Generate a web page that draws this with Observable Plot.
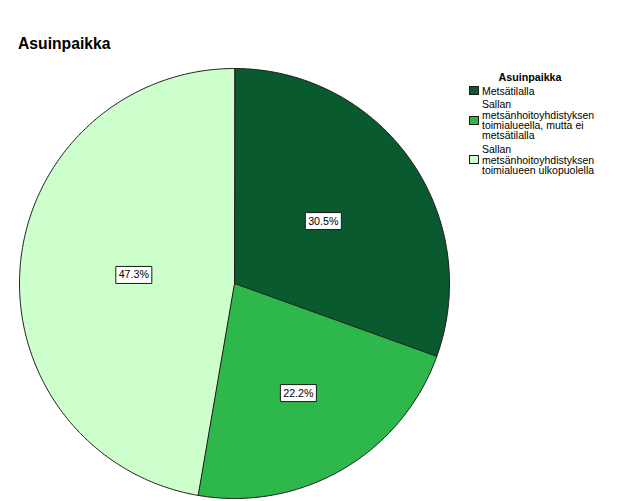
<!DOCTYPE html>
<html>
<head>
<meta charset="utf-8">
<script src="https://cdn.jsdelivr.net/npm/d3@7"></script>
<script src="https://cdn.jsdelivr.net/npm/@observablehq/plot@0.6"></script>
<style>
  body { margin: 0; background: white; }
  #wrap { position: relative; width: 626px; height: 501px; font-family: Arial, "Liberation Sans", sans-serif; background: white; overflow: hidden; }
  #title { position: absolute; left: 18px; top: 35.7px; font-size: 15.7px; line-height: 15.7px; font-weight: bold; color: #000; }
  #chart { position: absolute; left: 0; top: 0; }
  #legtitle { position: absolute; left: 470px; width: 120px; top: 72px; text-align: center; font-size: 10.7px; line-height: 10.7px; font-weight: bold; color: #000; }
  #legend { position: absolute; left: 468.5px; top: 85.5px; display: flex; flex-direction: column; gap: 3.7px; }
  .item { display: flex; align-items: center; }
  .sw { width: 10px; height: 9px; box-sizing: border-box; border: 1px solid #1a1a1a; margin-right: 3.5px; flex: none; }
  .lab { font-size: 10.5px; line-height: 10.3px; white-space: pre-line; color: #000; }
</style>
</head>
<body>
<div id="wrap">
  <div id="title"></div>
  <div id="chart"></div>
  <div id="legtitle"></div>
  <div id="legend"></div>
</div>
<script>
// ---- data ----
const chartTitle = "Asuinpaikka";
const legendTitle = "Asuinpaikka";
const categories = [
  "Metsätilalla",
  "Sallan\nmetsänhoitoyhdistyksen\ntoimialueella, mutta ei\nmetsätilalla",
  "Sallan\nmetsänhoitoyhdistyksen\ntoimialueen ulkopuolella"
];
const percents = [30.5, 22.2, 47.3];
const colors = ["#0a5a2f", "#2eb84b", "#ccffcc"];
// label distance from centre as fraction of radius
const labelRadius = [0.505, 0.59, 0.47];

// ---- geometry via d3.pie ----
const arcs = d3.pie().sort(null).value(d => d)(percents);
const slicePts = arcs.flatMap((a, i) => {
  const cat = categories[i];
  const pts = [{cat, x: 0, y: 0}];
  const n = Math.max(2, Math.ceil((a.endAngle - a.startAngle) / (Math.PI / 360)));
  for (let k = 0; k <= n; k++) {
    const t = a.startAngle + (a.endAngle - a.startAngle) * k / n;
    pts.push({cat, x: Math.sin(t), y: Math.cos(t)});
  }
  return pts;
});
const labels = arcs.map((a, i) => {
  const m = (a.startAngle + a.endAngle) / 2;
  const f = labelRadius[i];
  return {cat: categories[i], text: percents[i].toFixed(1) + "%", x: f * Math.sin(m), y: f * Math.cos(m)};
});

const boxSymbol = {
  draw(context) {
    context.moveTo(-18, -8.5);
    context.lineTo(18, -8.5);
    context.lineTo(18, 8.5);
    context.lineTo(-18, 8.5);
    context.closePath();
  }
};

const plot = Plot.plot({
  width: 626,
  height: 501,
  margin: 0,
  style: {fontFamily: "Arial, 'Liberation Sans', sans-serif", background: "transparent", overflow: "visible"},
  x: {domain: [-1, 1], range: [19, 449], axis: null},
  y: {domain: [-1, 1], range: [498, 68], axis: null},
  color: {domain: categories, range: colors},
  marks: [
    Plot.line(slicePts, {x: "x", y: "y", z: "cat", fill: "cat", stroke: "#1a1a1a", strokeWidth: 1, curve: "linear-closed", strokeLinejoin: "round"}),
    Plot.dot(labels, {x: "x", y: "y", symbol: boxSymbol, r: 5, fill: "white", stroke: "#1a1a1a", strokeWidth: 1}),
    Plot.text(labels, {x: "x", y: "y", text: "text", fontSize: 10.7, fill: "black"})
  ]
});
document.getElementById("chart").appendChild(plot);

document.getElementById("title").textContent = chartTitle;
document.getElementById("legtitle").textContent = legendTitle;
const leg = document.getElementById("legend");
categories.forEach((c, i) => {
  const item = document.createElement("div");
  item.className = "item";
  const sw = document.createElement("div");
  sw.className = "sw";
  sw.style.background = colors[i];
  const lab = document.createElement("div");
  lab.className = "lab";
  lab.textContent = c;
  item.appendChild(sw);
  item.appendChild(lab);
  leg.appendChild(item);
});
</script>
</body>
</html>
